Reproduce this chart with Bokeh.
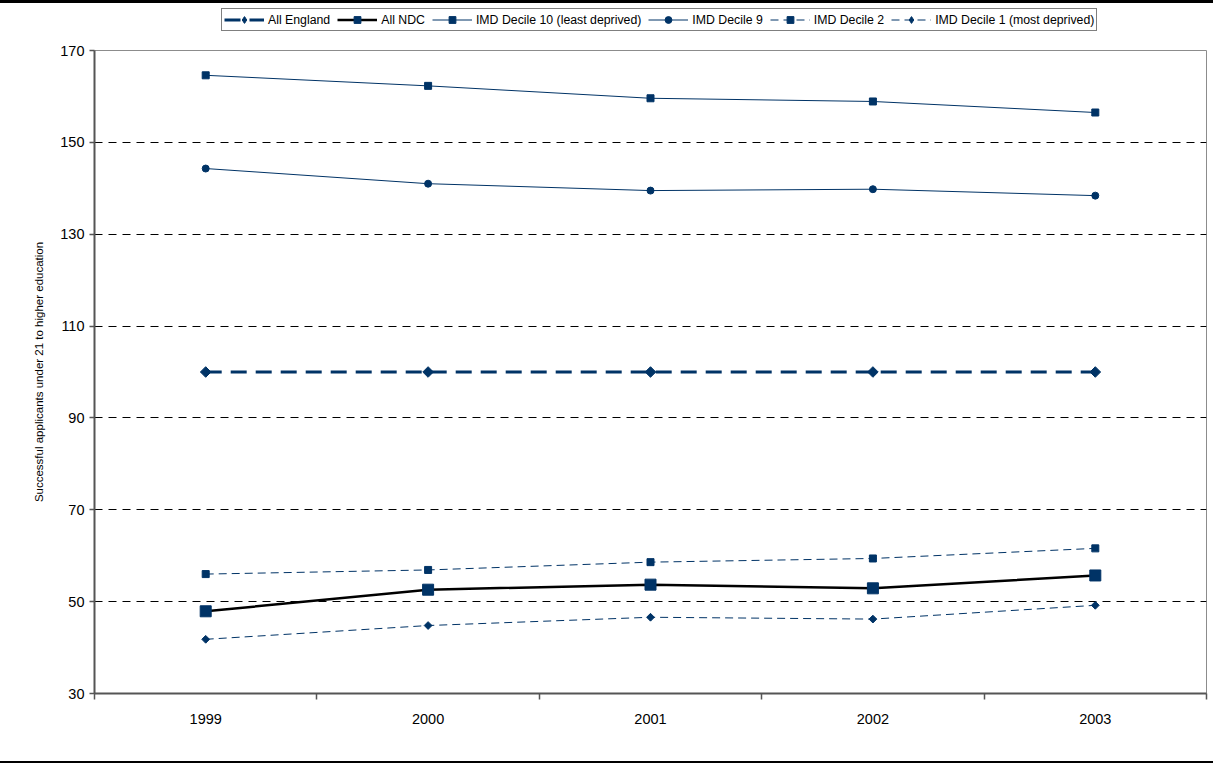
import math
from bokeh.plotting import figure
from bokeh.layouts import column
from bokeh.models import FixedTicker, Legend, LegendItem, Range1d
from bokeh.embed import file_html
from bokeh.resources import INLINE

years = [1999, 2000, 2001, 2002, 2003]
boundaries = [1998.5, 1999.5, 2000.5, 2001.5, 2002.5, 2003.5]
y_ticks = [30, 50, 70, 90, 110, 130, 150, 170]

series_names = ["All England", "All NDC", "IMD Decile 10 (least deprived)",
                "IMD Decile 9", "IMD Decile 2", "IMD Decile 1 (most deprived)"]
all_england = [100, 100, 100, 100, 100]
all_ndc = [47.9, 52.6, 53.7, 52.9, 55.7]
decile_10 = [164.6, 162.3, 159.6, 158.9, 156.5]
decile_9 = [144.3, 141.0, 139.5, 139.8, 138.4]
decile_2 = [56.0, 56.9, 58.6, 59.4, 61.6]
decile_1 = [41.8, 44.8, 46.6, 46.2, 49.2]

NAVY = "#003366"
FONT = "Liberation Sans"
ROT = math.pi / 4

# styles: (line_color, line_width, line_dash, marker, angle, marker_size, legend_marker, legend_size)
styles = [
    (NAVY, 3, "16 9", "square", ROT, 7.5, "diamond", 11),
    ("black", 2.5, "solid", "square", 0, 11, "square", 10),
    (NAVY, 1, "solid", "square", 0, 7, "square", 7),
    (NAVY, 1, "solid", "circle", 0, 7, "circle", 7),
    (NAVY, 1, "8 5", "square", 0, 7, "square", 7),
    (NAVY, 1, "8 5", "square", ROT, 5.5, "diamond", 8),
]
values = [all_england, all_ndc, decile_10, decile_9, decile_2, decile_1]

# ---------- main chart ----------
p = figure(width=1213, height=720, output_backend="svg", toolbar_location=None,
           x_range=Range1d(1998.5, 2003.5), y_range=Range1d(30, 170),
           min_border_left=94, min_border_right=7, min_border_top=7,
           min_border_bottom=70)
p.styles = {"border-bottom": "2px solid black"}
p.outline_line_color = "#8c8c8c"
p.outline_line_width = 1

p.xaxis.ticker = FixedTicker(ticks=years, minor_ticks=boundaries)
p.xaxis.major_tick_out = 0
p.xaxis.major_tick_in = 0
p.xaxis.minor_tick_out = 6
p.xaxis.minor_tick_in = 0
p.xaxis.major_label_standoff = 14
p.yaxis.ticker = FixedTicker(ticks=y_ticks)
p.yaxis.minor_tick_out = 0
p.yaxis.minor_tick_in = 0
p.yaxis.major_tick_out = 5
p.yaxis.major_tick_in = 0
p.yaxis.major_label_standoff = 5
p.yaxis.axis_label = "Successful applicants under 21 to higher education"
p.yaxis.axis_label_standoff = 12
p.yaxis.axis_label_text_font = FONT
p.yaxis.axis_label_text_font_size = "11.5px"
p.yaxis.axis_label_text_font_style = "normal"
p.yaxis.axis_label_text_color = "black"
for ax in (p.xaxis, p.yaxis):
    ax.axis_line_color = "#555555"
    ax.axis_line_width = 2
    ax.major_tick_line_color = "#555555"
    ax.minor_tick_line_color = "#555555"
    ax.major_tick_line_width = 1.5
    ax.minor_tick_line_width = 1.5
    ax.major_label_text_font = FONT
    ax.major_label_text_font_size = "14.5px"
    ax.major_label_text_color = "black"

p.xgrid.visible = False
p.ygrid.grid_line_color = "black"
p.ygrid.grid_line_dash = "8 6"
p.ygrid.grid_line_width = 1

for vals, (lc, lw, ld, mk, ang, ms, _lm, _ls) in zip(values, styles):
    p.line(years, vals, line_color=lc, line_width=lw, line_dash=ld)
    p.scatter(years, vals, marker=mk, angle=ang, size=ms,
              fill_color=NAVY, line_color=NAVY)

# ---------- legend strip (same series, outside its visible range) ----------
top = figure(width=1213, height=43, output_backend="svg", toolbar_location=None,
             x_range=Range1d(0, 1), y_range=Range1d(0, 1),
             x_axis_type=None, y_axis_type=None,
             min_border_left=0, min_border_right=0, min_border_top=0,
             min_border_bottom=0)
top.styles = {"border-top": "3px solid black"}
top.outline_line_color = None
top.xgrid.visible = False
top.ygrid.visible = False

items = []
for name, vals, (lc, lw, ld, mk, ang, ms, lm, ls) in zip(series_names, values, styles):
    lr = top.line(years, vals, line_color=lc, line_width=lw, line_dash=ld)
    mr = top.scatter(years, vals, marker=lm, size=ls,
                     fill_color=NAVY, line_color=NAVY)
    items.append(LegendItem(label=name, renderers=[lr, mr]))

legend = Legend(items=items, orientation="horizontal", location=(127, 15))
legend.glyph_width = 40
legend.glyph_height = 17
legend.label_height = 17
legend.label_standoff = 4
legend.spacing = 7
legend.padding = 2
legend.margin = 0
legend.border_line_color = "black"
legend.border_line_width = 1
legend.background_fill_alpha = 1
legend.label_text_font = FONT
legend.label_text_font_size = "12.3px"
legend.label_text_color = "black"
top.add_layout(legend)

layout = column(top, p, spacing=0)
open("out.html", "w").write(file_html(layout, INLINE))
